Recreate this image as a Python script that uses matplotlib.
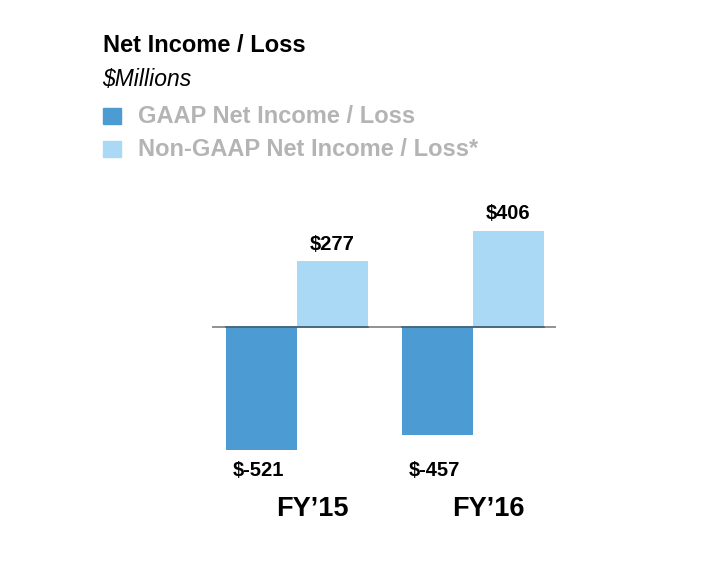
import matplotlib
matplotlib.use("Agg")
import matplotlib.pyplot as plt
import numpy as np

plt.rcParams['font.family'] = ['Liberation Sans', 'DejaVu Sans']

years = ["FY\u201915", "FY\u201916"]
gaap = [-521, -457]
non_gaap = [277, 406]
series_names = ["GAAP Net Income / Loss", "Non-GAAP Net Income / Loss*"]

gaap_colour = "#4c9bd3"
non_gaap_colour = "#a9d9f5"

fig = plt.figure(figsize=(7.2, 5.67), dpi=100)
ax = fig.add_axes([0.2944, 0.1728, 0.4778, 0.4598])

x = np.arange(len(years))
width = 0.403
ax.bar(x - width / 2, gaap, width=width, color=gaap_colour, zorder=2)
ax.bar(x + width / 2, non_gaap, width=width, color=non_gaap_colour, zorder=2)
ax.axhline(0, color="#7f7f7f", linewidth=1.2, zorder=3)
ax.plot([x[0] - width, x[0] + width], [0, 0], color="#3d6480", linewidth=1.2, zorder=4)
ax.plot([x[1] - width, x[1] + width], [0, 0], color="#3d6480", linewidth=1.2, zorder=4)

ax.set_xlim(-0.483, 1.472)
ax.set_ylim(-600, 500)
ax.axis("off")

# negative labels sit on one common line below the deepest bar
neg_label_y = min(gaap) - 85
for i in range(len(years)):
    ax.text(x[i] + width / 2, non_gaap[i] + 30, f"${non_gaap[i]}", ha="center", va="bottom",
            fontsize=14.5, fontweight="bold")
    ax.text(x[i] - width / 2 - 0.02, neg_label_y, f"${gaap[i]}", ha="center", va="center",
            fontsize=14.5, fontweight="bold")
    ax.text(x[i] + 0.09, -770, years[i], ha="center", va="center", fontsize=19.5, fontweight="bold")

fig.text(103 / 720, 1 - 45 / 567, "Net Income / Loss", fontsize=17, fontweight="bold", va="center")
fig.text(102 / 720, 1 - 79 / 567, "$Millions", fontsize=16.5, style="italic", va="center")

legend_colours = [gaap_colour, non_gaap_colour]
for k, (name, c) in enumerate(zip(series_names, legend_colours)):
    yc = 115.5 + k * 33
    fig.patches.append(plt.Rectangle((103 / 720, 1 - (yc + 8) / 567), 18 / 720, 16 / 567,
                                     transform=fig.transFigure, color=c, figure=fig))
    fig.text(138 / 720, 1 - (yc + 1.5) / 567, name, fontsize=17, fontweight="bold", color="#b4b4b4",
             va="center")

fig.savefig("out.png", dpi=100)
